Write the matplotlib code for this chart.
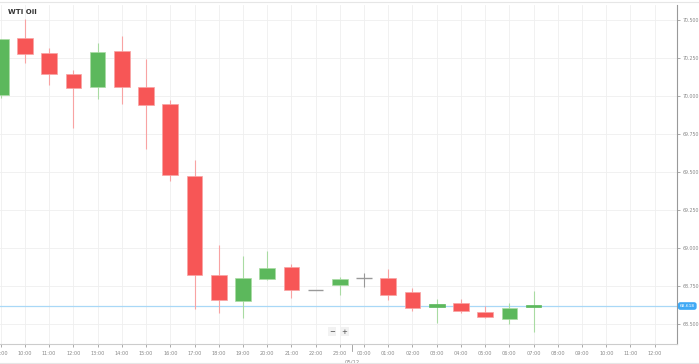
import matplotlib
matplotlib.use("Agg")
from matplotlib import pyplot as plt
import numpy as np

# hourly candles, 09:00 on 04/12 through 07:00 on 05/12
candle_hours = ['09:00', '10:00', '11:00', '12:00', '13:00', '14:00', '15:00', '16:00',
                '17:00', '18:00', '19:00', '20:00', '21:00', '22:00', '23:00', '00:00',
                '01:00', '02:00', '03:00', '04:00', '05:00', '06:00', '07:00']
opens = [70.007, 70.380, 70.285, 70.143, 70.061, 70.294, 70.057, 69.949,
         69.472, 68.822, 68.651, 68.794, 68.875, 68.722, 68.759, 68.803,
         68.805, 68.709, 68.610, 68.637, 68.581, 68.535, 68.614]
highs = [70.375, 70.507, 70.314, 70.171, 70.347, 70.397, 70.243, 69.974,
         69.579, 69.020, 68.949, 68.982, 68.893, 68.722, 68.811, 68.838,
         68.860, 68.739, 68.666, 68.666, 68.615, 68.636, 68.719]
lows = [69.985, 70.219, 70.070, 69.787, 69.980, 69.949, 69.651, 69.441,
        68.600, 68.572, 68.539, 68.790, 68.669, 68.722, 68.693, 68.740,
        68.658, 68.587, 68.508, 68.572, 68.538, 68.500, 68.449]
closes = [70.373, 70.278, 70.147, 70.055, 70.287, 70.061, 69.939, 69.480,
          68.820, 68.658, 68.801, 68.868, 68.722, 68.722, 68.794, 68.803,
          68.689, 68.605, 68.630, 68.587, 68.544, 68.605, 68.622]

tick_labels = ['09:00', '10:00', '11:00', '12:00', '13:00', '14:00', '15:00', '16:00',
               '17:00', '18:00', '19:00', '20:00', '21:00', '22:00', '23:00', '00:00',
               '01:00', '02:00', '03:00', '04:00', '05:00', '06:00', '07:00', '08:00',
               '09:00', '10:00', '11:00', '12:00']
y_ticks = [68.5, 68.75, 69.0, 69.25, 69.5, 69.75, 70.0, 70.25, 70.5]
last_price = 68.618
day_label = '05/12'

RED = '#f75656'
RED_WICK = '#f8a3a3'
GREEN = '#5cb85c'
GREEN_WICK = '#a9dba3'
GRAY = '#999999'

fig = plt.figure(figsize=(6.99, 3.64), dpi=100)
ax = fig.add_axes([0.0, 20 / 364, 677 / 699, 339 / 364])

x = np.arange(len(candle_hours))
o = np.array(opens)
h = np.array(highs)
l = np.array(lows)
c = np.array(closes)
w = 0.65

for i in range(len(x)):
    if o[i] == c[i]:
        ax.vlines(x[i], l[i], h[i], color=GRAY, lw=0.8, zorder=3)
        ax.hlines(o[i], x[i] - w / 2, x[i] + w / 2, color=GRAY, lw=1.0, zorder=3)
        continue
    up = c[i] > o[i]
    col = GREEN if up else RED
    wcol = GREEN_WICK if up else RED_WICK
    ax.vlines(x[i], l[i], h[i], color=wcol, lw=0.8, zorder=2)
    bot = min(o[i], c[i])
    hgt = abs(c[i] - o[i])
    ax.bar(x[i], hgt, bottom=bot, width=w, color=col,
           edgecolor=col if hgt < 0.02 else wcol, linewidth=0.5, zorder=3)

# last price line and tag
ax.axhline(last_price, color='#a9d8f7', lw=0.9, zorder=1)
ax.text(1.004, last_price, '%.3f' % last_price, transform=ax.get_yaxis_transform(),
        fontsize=3.2, color='white', va='center', ha='left', zorder=6,
        bbox=dict(boxstyle='round,pad=0.25,rounding_size=0.4', fc='#3fa9f5', ec='#3fa9f5'),
        clip_on=False)

ax.set_xlim(-0.03, 27.92)
ax.set_ylim(68.368, 70.599)

ax.set_xticks(np.arange(len(tick_labels)))
ax.set_xticklabels(tick_labels)
ax.set_yticks(y_ticks)
ax.set_yticklabels(['%.3f' % v for v in y_ticks])
ax.yaxis.tick_right()
ax.tick_params(axis='x', labelsize=3.6, colors='#888888', length=2, width=0.5, pad=3)
ax.tick_params(axis='y', labelsize=3.4, colors='#888888', length=2, width=0.5, pad=2)

ax.grid(True, color='#efefef', lw=0.6, zorder=0)
ax.set_axisbelow(True)
for s in ['left', 'top']:
    ax.spines[s].set_visible(False)
ax.spines['right'].set_color('#999999')
ax.spines['bottom'].set_color('#cccccc')
ax.spines['right'].set_linewidth(0.8)
ax.spines['bottom'].set_linewidth(0.8)

# day separator
ax.text(14.5, -0.045, day_label, transform=ax.get_xaxis_transform(), fontsize=3.8,
        color='#888888', ha='center', va='top', clip_on=False)
ax.plot([14.5, 14.5], [0, -0.02], transform=ax.get_xaxis_transform(),
        color='#999999', lw=0.6, clip_on=False)

# title
fig.text(8 / 699, 1 - 12 / 364, 'WTI Oil', fontsize=5, fontweight='bold',
         color='#333333', va='center', ha='left')

# zoom buttons
ax.text(13.68, 68.45, '\u2212', fontsize=5, color='#444444', ha='center', va='center',
        bbox=dict(boxstyle='square,pad=0.2', fc='#f2f2f2', ec='none'), zorder=5)
ax.text(14.18, 68.45, '+', fontsize=5, color='#444444', ha='center', va='center',
        bbox=dict(boxstyle='square,pad=0.2', fc='#f2f2f2', ec='none'), zorder=5)

# frame lines top and bottom of widget
fig.add_artist(plt.Line2D([0, 1], [1 - 1.5 / 364, 1 - 1.5 / 364], color='#e6e6e6', lw=0.8))
fig.add_artist(plt.Line2D([0, 1], [1.5 / 364, 1.5 / 364], color='#e6e6e6', lw=0.8))

fig.savefig('out.png', dpi=100)
